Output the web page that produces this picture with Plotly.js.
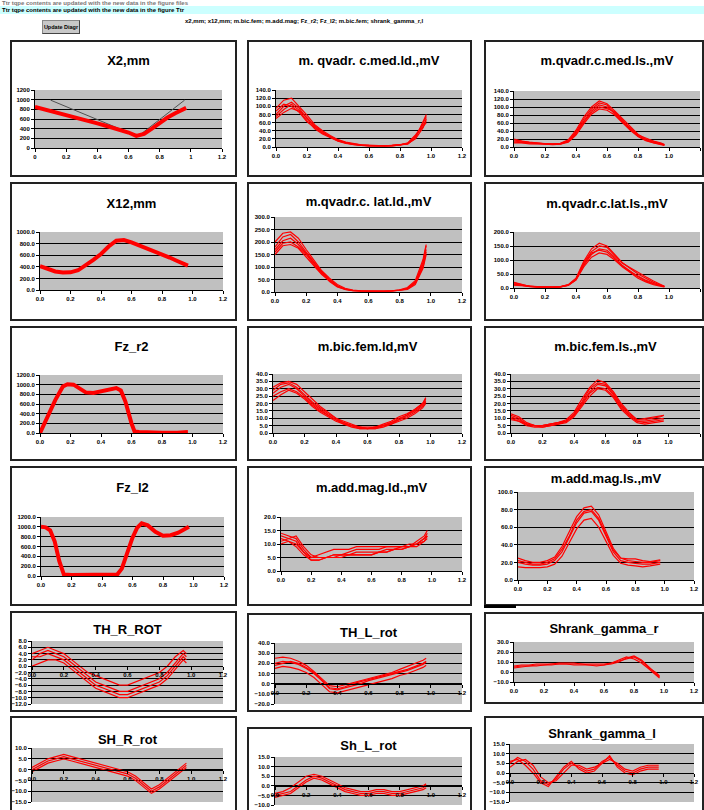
<!DOCTYPE html>
<html><head><meta charset="utf-8">
<script src="https://cdn.plot.ly/plotly-3.0.1.min.js"></script>
<style>
body{margin:0;padding:0;background:#fff;width:704px;height:810px;overflow:hidden;position:relative;font-family:Arial,"Liberation Sans",sans-serif;}
.band{position:absolute;left:0;top:6px;width:704px;height:8px;background:#ccffff;}
.hdr{position:absolute;font-weight:bold;font-size:6px;color:#000;white-space:nowrap;}
.btn{position:absolute;left:42px;top:20px;width:36px;height:12px;background:#c8c8c8;border:1px solid #888;border-right-color:#444;border-bottom-color:#444;font-size:5.5px;font-weight:bold;text-align:center;line-height:12px;}
.box{position:absolute;border:2px solid #222;box-sizing:border-box;pointer-events:none;}
.plt{position:absolute;}
.bar{position:absolute;left:484px;top:605px;width:32px;height:3px;background:#000;}
</style></head><body>
<div class="band"></div>
<div class="hdr" style="left:2px;top:0px;color:#777">Ttr tqpe contents are updated with the new data in the figure files</div>
<div class="hdr" style="left:2px;top:7px">Ttr tqpe contents are updated with the new data in the figure Ttr</div>
<div class="btn">Update Diagr</div>
<div class="hdr" style="left:185px;top:18px">x2,mm; x12,mm; m.bic.fem; m.add.mag; Fz_r2; Fz_l2; m.bic.fem; shrank_gamma_r,l</div>
<div id="root"></div>
<div class="bar"></div>
<script>
// ---------- shared x samples (fraction of cycle) ----------
const xs = [0,0.05,0.1,0.15,0.2,0.25,0.3,0.35,0.4,0.45,0.5,0.55,0.6,0.65,0.7,0.75,0.8,0.85,0.9,0.95,0.97];

// ---------- X2,mm ----------
const x2Red = [850,810,770,730,690,650,600,555,510,465,420,375,320,250,290,400,520,630,720,800,830];
const x2RefX = [0.1,0.66,0.96];
const x2RefY = [990,240,990];

// ---------- X12,mm ----------
const x12Red = [410,360,320,300,305,340,420,520,620,750,850,860,820,770,720,670,620,560,500,440,420];

// ---------- Fz_r2 ----------
const fzrX = [0,0.05,0.1,0.15,0.18,0.22,0.26,0.3,0.35,0.4,0.45,0.5,0.53,0.56,0.6,0.62,0.65,0.7,0.8,0.9,0.97];
const fzrY = [0,330,680,960,1010,1000,920,840,830,860,910,930,880,650,200,30,20,10,5,5,20];

// ---------- Fz_l2 ----------
const fzlX = [0,0.03,0.06,0.09,0.12,0.15,0.2,0.3,0.4,0.5,0.53,0.57,0.6,0.63,0.66,0.7,0.75,0.8,0.85,0.9,0.97];
const fzlY = [1000,990,930,700,300,30,20,20,25,30,150,500,780,980,1070,1030,900,820,830,880,1000];

// ---------- m. qvadr. c.med.ld.,mV ----------
const qmedLd = [
 [80,100,110,95,70,50,35,25,15,10,6,4,3,3,3,4,5,8,25,60,75],
 [95,115,120,100,78,55,40,28,18,12,8,5,4,3,3,3,5,10,30,55,65],
 [70,85,95,88,65,45,32,22,14,9,6,4,3,3,3,4,6,9,20,48,70],
 [88,105,100,85,62,48,34,26,17,11,7,5,4,3,3,4,5,7,22,65,80],
 [75,92,105,90,72,52,38,24,16,10,7,5,3,3,3,3,5,9,28,52,60]];
// ---------- m.qvadr.c.med.ls.,mV ----------
const qmedLs = [
 [15,12,10,10,8,7,8,15,35,65,90,105,100,85,65,45,28,18,12,8,5],
 [20,15,12,10,8,8,9,18,42,75,100,115,108,90,70,50,32,20,14,9,6],
 [10,10,8,8,7,6,7,12,30,58,82,95,92,80,60,42,26,16,10,7,4],
 [18,14,11,9,8,7,9,16,38,70,95,110,105,82,62,48,30,22,15,10,6],
 [12,11,10,9,7,7,8,14,33,62,86,100,96,88,68,44,27,17,11,8,5]];
// ---------- m.qvadr.c. lat.ld.,mV ----------
const qlatLd = [
 [180,220,230,200,160,120,80,50,25,12,6,4,3,3,3,5,8,15,40,110,170],
 [200,235,240,215,170,125,85,55,30,15,8,5,4,3,3,4,7,12,35,120,185],
 [150,185,190,175,140,105,70,45,22,10,5,4,3,3,3,4,6,10,30,95,150],
 [170,205,215,190,155,118,78,48,24,12,6,4,3,3,3,5,9,18,45,130,190],
 [160,195,200,180,150,110,75,42,20,10,5,3,3,3,3,4,7,13,38,100,160]];
// ---------- m.qvadr.c.lat.ls.,mV ----------
const qlatLs = [
 [15,10,5,4,3,3,4,10,30,80,120,140,135,110,80,60,40,25,15,8,5],
 [20,12,6,4,3,3,5,12,35,95,140,160,150,120,90,70,50,35,20,10,6],
 [10,8,5,3,3,3,4,9,28,75,110,125,120,100,75,55,35,22,12,6,4],
 [18,12,6,4,3,3,5,11,33,90,130,150,145,118,88,72,55,40,25,12,6],
 [12,9,5,4,3,3,4,10,30,85,125,135,128,105,78,58,42,28,16,9,5]];
// ---------- m.bic.fem.ld,mV ----------
const bicLd = [
 [29,33,34,31,26,21,17,13,10,7,5,4,3,4,5,7,10,12,15,19,22],
 [31,34,35,33,28,23,18,14,10,8,6,4,4,4,6,8,11,13,16,20,23],
 [25,28,30,28,24,19,15,12,9,6,5,3,3,3,5,6,8,10,13,17,20],
 [27,31,33,30,25,20,16,12,9,7,5,4,3,4,5,7,9,11,14,18,21],
 [22,26,29,27,23,18,14,11,8,6,4,3,3,3,4,6,9,12,16,20,24]];
// ---------- m.bic.fem.ls.,mV ----------
const bicLs = [
 [11,9,6,5,5,6,7,8,12,20,28,33,32,26,18,12,8,8,9,10,10],
 [13,11,7,5,5,6,7,9,14,23,31,36,34,28,20,14,9,9,10,11,12],
 [9,8,5,4,4,5,6,7,11,18,25,30,29,24,16,11,7,6,7,8,8],
 [12,10,6,5,5,6,7,8,13,21,30,34,33,27,19,13,9,10,11,12,12],
 [10,8,6,5,4,5,6,8,12,19,27,31,30,25,17,12,8,7,8,9,9]];
// ---------- m.add.mag.ld.,mV ----------
const addLd = [
 [13,12,11,7,4,4,5,5,5,6,6,6,6,7,7,8,8,9,10,12,14],
 [14,13,12,8,5,5,5,6,6,6,7,7,7,7,8,8,9,9,11,13,15],
 [12,11,10,7,5,6,7,8,8,8,9,9,9,9,9,9,9,9,10,12,13],
 [11,12,13,9,6,5,5,5,6,6,6,6,6,7,7,8,8,9,9,11,13],
 [10,11,9,6,4,4,5,6,6,7,8,8,8,8,9,9,9,10,10,11,12]];
// ---------- m.add.mag.ls.,mV ----------
const addLs = [
 [20,18,17,17,18,22,32,48,65,76,78,68,50,32,22,20,19,18,18,19,20],
 [25,22,20,20,22,26,38,55,72,82,84,74,55,36,25,22,21,20,20,21,22],
 [15,14,14,14,15,18,27,42,58,68,70,60,44,28,19,17,16,15,16,17,18],
 [22,20,18,18,20,24,35,50,68,78,80,70,52,34,25,24,24,22,21,22,23]];
// ---------- TH_R_ROT ----------
const thR = [
 [2,4,5,4,3,1,-1,-3,-5,-6,-7,-8,-8,-7,-6,-5,-4,-2,1,4,3],
 [4,5,6,5,4,2,0,-2,-3,-4,-5,-6,-6,-5,-4,-3,-2,0,3,5,4],
 [0,1,2,2,1,-1,-3,-5,-7,-8,-9,-10,-10,-9,-8,-7,-6,-4,-1,2,1],
 [3,3,4,3,2,0,-2,-4,-6,-7,-8,-9,-9,-8,-7,-6,-5,-3,0,3,2]];
// ---------- TH_L_rot ----------
const thL = [
 [20,22,21,19,15,10,3,-5,-6,-4,-2,0,3,5,7,9,11,13,16,19,21],
 [25,26,25,22,18,12,5,-2,-3,-1,1,3,5,7,9,11,14,17,20,23,25],
 [15,17,16,14,11,6,-1,-8,-9,-7,-5,-3,-1,1,3,5,8,10,13,16,18],
 [18,20,22,20,16,11,4,-4,-5,-3,0,2,4,6,8,10,12,14,17,20,22]];
// ---------- Shrank_gamma_r ----------
const sgR = [
 [5,6,6,7,7,8,8,8,8,8,7,7,7,8,10,14,16,12,5,-2,-5],
 [4,5,6,6,7,7,8,8,7,7,7,6,7,9,12,15,13,9,3,-3,-6],
 [6,7,7,8,8,8,9,9,9,8,8,8,8,9,11,13,15,11,4,-1,-4]];
// ---------- SH_R_rot ----------
const shR = [
 [0,2,4,5,6,5,4,3,2,1,0,-1,-2,-4,-7,-10,-8,-5,-2,1,2],
 [1,3,5,6,7,6,5,4,3,2,1,0,-1,-3,-6,-9,-7,-4,-1,2,3],
 [-1,1,3,4,5,4,3,2,1,0,-1,-2,-3,-5,-8,-11,-9,-6,-3,0,1]];
// ---------- Sh_L_rot ----------
const shL = [
 [-5,-4,-3,0,3,5,4,2,0,-2,-3,-4,-4,-3,-3,-4,-4,-3,-2,-1,0],
 [-4,-3,-1,2,5,6,5,3,1,-1,-2,-3,-3,-2,-2,-3,-3,-2,-1,0,1],
 [-6,-5,-4,-1,2,4,3,1,-1,-3,-4,-5,-5,-4,-4,-5,-5,-4,-3,-2,-1]];
// ---------- Shrank_gamma_l ----------
const sgL = [
 [5,8,6,2,-4,-6,-3,2,5,3,1,2,6,8,4,1,0,2,3,3,3],
 [3,6,7,4,-2,-5,-4,0,4,4,2,3,5,7,5,2,1,3,4,4,4],
 [6,7,4,0,-5,-7,-2,3,6,2,0,1,5,9,3,0,-1,1,2,2,2]];

const xTicks = [0,0.2,0.4,0.6,0.8,1,1.2];

function multi(arr, w){ return arr.map(y => ({x: xs, y: y, w: w||1.2})); }

const panels = [
 // row 1
 {L:10,T:40,W:227,H:137, ml:25,mr:15,mt:50,mb:29, to:20, title:'X2,mm', yr:[0,1200], dt:200, yf:'d', xf:'',
  tr:[{x:x2RefX,y:x2RefY,w:1,c:'#505050'},{x:xs,y:x2Red,w:4}]},
 {L:247,T:40,W:225,H:137, ml:29,mr:10,mt:50,mb:30, to:20, title:'m. qvadr. c.med.ld.,mV', yr:[0,140], dt:20, yf:'.1f', tr:multi(qmedLd)},
 {L:484,T:40,W:220,H:137, ml:30,mr:4,mt:51,mb:30, to:20, title:'m.qvadr.c.med.ls.,mV', yr:[0,140], dt:20, yf:'.1f', tr:multi(qmedLs)},
 // row 2
 {L:10,T:182,W:227,H:139, ml:30,mr:14,mt:50,mb:31, to:21, title:'X12,mm', yr:[0,1000], dt:200, yf:'.1f', tr:[{x:xs,y:x12Red,w:4}]},
 {L:247,T:182,W:225,H:139, ml:28,mr:10,mt:35,mb:29, to:19, title:'m.qvadr.c. lat.ld.,mV', yr:[0,300], dt:50, yf:'.1f', tr:multi(qlatLd)},
 {L:484,T:182,W:220,H:139, ml:30,mr:4,mt:50,mb:33, to:21, title:'m.qvadr.c.lat.ls.,mV', yr:[0,200], dt:50, yf:'.1f', tr:multi(qlatLs)},
 // row 3
 {L:10,T:326,W:227,H:135, ml:30,mr:14,mt:49,mb:28, to:20, title:'Fz_r2', yr:[0,1200], dt:200, yf:'.1f', tr:[{x:fzrX,y:fzrY,w:4}]},
 {L:247,T:326,W:225,H:135, ml:26,mr:10,mt:48,mb:28, to:20, title:'m.bic.fem.ld,mV', yr:[0,40], dt:5, yf:'.1f', tr:multi(bicLd)},
 {L:484,T:326,W:220,H:135, ml:27,mr:4,mt:48,mb:28, to:20, title:'m.bic.fem.ls.,mV', yr:[0,40], dt:5, yf:'.1f', tr:multi(bicLs)},
 // row 4
 {L:10,T:466,W:227,H:140, ml:31,mr:13,mt:51,mb:30, to:21, title:'Fz_l2', yr:[0,1200], dt:200, yf:'.1f', tr:[{x:fzlX,y:fzlY,w:4}]},
 {L:247,T:466,W:225,H:140, ml:34,mr:10,mt:51,mb:35, to:21, title:'m.add.mag.ld.,mV', yr:[0,20], dt:5, yf:'.1f', tr:multi(addLd)},
 {L:484,T:466,W:220,H:140, ml:34,mr:10,mt:26,mb:26, to:12, title:'m.add.mag.ls.,mV', yr:[0,100], dt:20, yf:'.1f', tr:multi(addLs)},
 // row 5
 {L:10,T:611,W:227,H:101, ml:22,mr:14,mt:30,mb:8, to:18, title:'TH_R_ROT', yr:[-12,8], dt:2, yf:'.1f', axis0:true, tr:multi(thR)},
 {L:247,T:613,W:225,H:99, ml:28,mr:10,mt:30,mb:8, to:19, title:'TH_L_rot', yr:[-20,40], dt:10, yf:'.1f', axis0:true, tr:multi(thL)},
 {L:484,T:612,W:220,H:92, ml:30,mr:10,mt:30,mb:22, to:16, title:'Shrank_gamma_r', yr:[-10,30], dt:10, yf:'.1f', tr:multi(sgR)},
 // row 6
 {L:10,T:716,W:227,H:100, ml:22,mr:14,mt:32,mb:14, to:23, title:'SH_R_rot', yr:[-15,10], dt:5, yf:'.1f', axis0:true, tr:multi(shR)},
 {L:247,T:727,W:225,H:90, ml:28,mr:10,mt:30,mb:12, to:18, title:'Sh_L_rot', yr:[-10,15], dt:5, yf:'.1f', axis0:true, tr:multi(shL)},
 {L:484,T:716,W:220,H:100, ml:26,mr:10,mt:28,mb:14, to:17, title:'Shrank_gamma_l', yr:[-15,15], dt:5, yf:'.1f', axis0:true, tr:multi(sgL)}
];

const root = document.getElementById('root');
const tickFont = {family:'Arial, Liberation Sans, sans-serif', size:6, color:'#000', weight:'bold'};
panels.forEach((p,i)=>{
  const d = document.createElement('div');
  d.className='plt'; d.id='p'+i;
  d.style.left=p.L+'px'; d.style.top=p.T+'px'; d.style.width=p.W+'px'; d.style.height=p.H+'px';
  root.appendChild(d);
  const b = document.createElement('div');
  b.className='box';
  b.style.left=p.L+'px'; b.style.top=p.T+'px'; b.style.width=p.W+'px'; b.style.height=p.H+'px';
  root.appendChild(b);
  const traces = p.tr.map(t=>({x:t.x, y:t.y, type:'scatter', mode:'lines',
     line:{color:t.c||'#ff0000', width:t.w}, hoverinfo:'skip', showlegend:false}));
  const xa = {range:[0,1.2], tickvals:xTicks, tickformat:(p.xf!==undefined?p.xf:'.1f'), showgrid:false, zeroline:false,
     showline:true, linecolor:'#000', linewidth:1, ticks:'outside', ticklen:3, tickcolor:'#000', tickfont:tickFont, fixedrange:true};
  if(p.axis0){ xa.anchor='free'; xa.position=(0-p.yr[0])/(p.yr[1]-p.yr[0]); }
  const ya = {range:p.yr, dtick:p.dt, tick0:0, tickformat:p.yf, showgrid:true, gridcolor:'#000', gridwidth:1, zeroline:false,
     showline:true, linecolor:'#000', linewidth:1, ticks:'outside', ticklen:3, tickcolor:'#000', tickfont:tickFont, fixedrange:true};
  const layout = {width:p.W, height:p.H, margin:{l:p.ml,r:p.mr,t:p.mt,b:p.mb,pad:0},
     paper_bgcolor:'rgba(0,0,0,0)', plot_bgcolor:'#c0c0c0',
     title:{text:p.title, x:0.5, xanchor:'center', xref:'paper', y:1-p.to/p.H, yref:'container', yanchor:'middle',
        font:{family:'Arial, Liberation Sans, sans-serif', size:13, color:'#000', weight:'bold'}},
     xaxis:xa, yaxis:ya, showlegend:false};
  Plotly.newPlot(d, traces, layout, {staticPlot:true, displayModeBar:false});
});
</script>
</body></html>
